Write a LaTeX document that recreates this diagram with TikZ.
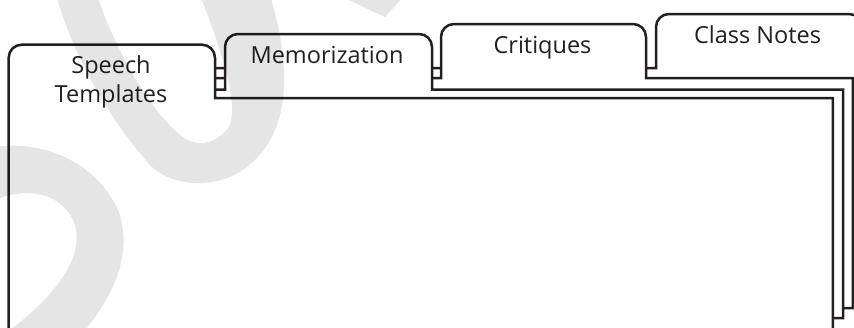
\documentclass[tikz,border=0pt]{standalone}
\usepackage{fontspec}
\setmainfont{Open Sans}
\definecolor{ink}{HTML}{231F20}
\newcommand{\dividercard}[7]{%
  \path[cardline] (#1,#7) -- (#1,#5) -- (#2,#5) -- (#2,#4+13)
    .. controls (#2,#4+5.8) and (#2+5.8,#4) .. (#2+13,#4) -- (#3-13,#4)
    .. controls (#3-5.8,#4) and (#3,#4+5.8) .. (#3,#4+13)
    -- (#3,#5) -- (#6,#5) -- (#6,#7) -- cycle;}
\begin{document}
\begin{tikzpicture}[x=1pt,y=-1pt,
  cardline/.style={draw=ink, line width=2.5pt, fill=white, line join=miter},
  tablabel/.style={text=ink, font=\fontsize{23.5}{29}\selectfont, anchor=base, inner sep=0pt},
  wmark/.style={fill=black, fill opacity=0.1, draw=none}]
\useasboundingbox (0,0) rectangle (854,327);
\clip (0,0) rectangle (854,327);
% cards, back to front
\dividercard{39}{656}{862}{14}{68}{873}{298}
\dividercard{29}{441}{646}{24}{78}{852.8}{308}
\dividercard{19}{225}{432}{34}{89.5}{843}{318}
\path[cardline] (8.7,345) -- (8.7,44.7+13)
    .. controls (8.7,44.7+5.8) and (8.7+5.8,44.7) .. (8.7+13,44.7) -- (215-13,44.7)
    .. controls (215-5.8,44.7) and (215,44.7+5.8) .. (215,44.7+13)
    -- (215,98) -- (832.8,98) -- (832.8,345) -- cycle;
% labels
\node[tablabel] (speech) at (111,73) {Speech};
\node[tablabel] (templates) at (111,102.5) {Templates};
\node[tablabel] (memo) at (327,63) {Memorization};
\node[tablabel] (crit) at (542.5,53) {Critiques};
\node[tablabel] (notes) at (757.5,43) {Class Notes};
% watermark
\fill[wmark] (-5,147) .. controls (40,140) and (95,160) .. (118,210)
   .. controls (135,255) and (110,300) .. (85,330) -- (10,330)
   .. controls (50,300) and (85,260) .. (75,225)
   .. controls (65,195) and (30,185) .. (-5,200) -- cycle;
\fill[wmark, even odd rule] (56,-5) .. controls (75,60) and (110,120) .. (150,165)
   .. controls (175,190) and (225,190) .. (255,160)
   .. controls (285,130) and (295,80) .. (270,-5) -- cycle
   (97,-5) .. controls (115,50) and (150,110) .. (180,135)
   .. controls (195,148) and (215,145) .. (228,128)
   .. controls (240,110) and (225,60) .. (200,-5) -- cycle;
\fill[wmark] (338,-5) -- (405,-5) -- (385,17) -- cycle;
\end{tikzpicture}
\end{document}
